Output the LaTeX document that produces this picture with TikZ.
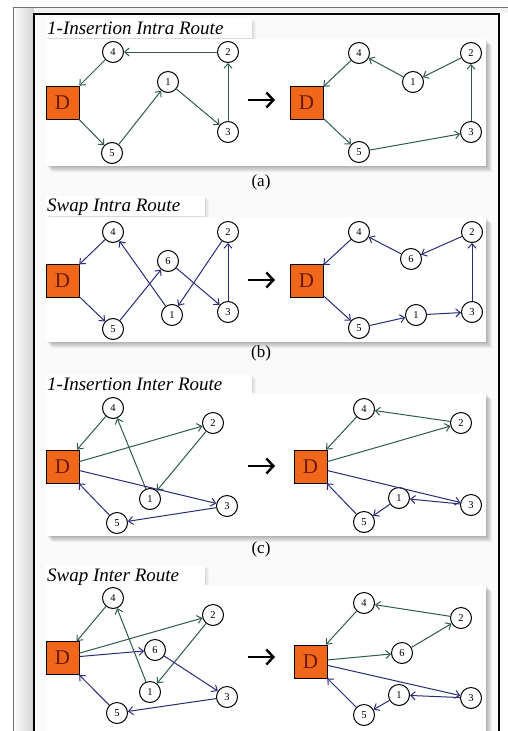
\documentclass[tikz,border=0pt]{standalone}
\usepackage{fontspec}
\setmainfont{Liberation Serif}
\usetikzlibrary{arrows.meta}
\definecolor{rgreen}{HTML}{2F5A4C}
\definecolor{rnavy}{HTML}{2A2C78}
\definecolor{dorange}{HTML}{F0661A}
\definecolor{dtext}{HTML}{6A1A05}
\newcommand\pnlbox[4]{%
  \foreach \k in {1,...,6}{\fill[black,opacity=0.05] (#1+\k,#2+\k) rectangle (#3+\k,#4+\k);}
  \fill[white] (#1,#2) rectangle (#3,#4);}
\newcommand\ttlshade[4]{%
  \foreach \k in {1,...,4}{\fill[black,opacity=0.03] (#1+\k,#2+\k) rectangle (#3+\k,#4+\k);}
  \fill[white] (#1,#2) rectangle (#3,#4);}
\begin{document}
\begin{tikzpicture}[x=1pt,y=-1pt,
  cust/.style={circle,draw=black,line width=1pt,fill=white,minimum size=21pt,inner sep=0pt,font=\fontsize{10.5}{10.5}\selectfont},
  depot/.style={draw=black,line width=0.7pt,fill=dorange,minimum size=33pt,inner sep=0pt,text=dtext,font=\fontsize{21}{21}\selectfont},
  ge/.style={rgreen,line width=1pt,-{Straight Barb[length=4.5pt,width=8pt]}},
  ne/.style={rnavy,line width=1pt,-{Straight Barb[length=4.5pt,width=8pt]}},
  ttl/.style={anchor=base west,font=\fontsize{19}{19}\selectfont\itshape,inner sep=0pt},
  sublbl/.style={font=\fontsize{17}{17}\selectfont,inner sep=0pt},
  bigarrow/.style={black,line width=2.4pt,-{Straight Barb[length=7pt,width=15pt,line width=2.4pt]}}
]
\useasboundingbox (0,0) rectangle (508,731);
\fill[white] (0,0) rectangle (508,731);
% outer frame
\shade[left color=white,right color=black!18] (13,7) rectangle (34,731);
\fill[black!5] (34,7) rectangle (508,13);
\draw[black!55,line width=0.8pt] (13,731) -- (13,7) -- (508,7);
\fill[black!2] (36,15) rectangle (497,731);
\draw[black,line width=2pt] (34,731) -- (34,13.5) -- (499,13.5) -- (499,731);

% panels
\ttlshade{46}{18}{252}{38}
\pnlbox{46}{39}{486}{166}
\ttlshade{46}{196}{205}{216}
\pnlbox{46}{217}{486}{342}
\ttlshade{46}{375}{252}{393}
\pnlbox{46}{393}{486}{536}
\ttlshade{46}{565}{205}{585}
\pnlbox{46}{585}{486}{735}

% titles
\node[ttl] (ta) at (47,34) {1-Insertion Intra Route};
\node[ttl] (tb) at (47,211) {Swap Intra Route};
\node[ttl] (tc) at (47,390) {1-Insertion Inter Route};
\node[ttl] (td) at (47,581) {Swap Inter Route};

% sub labels
\node[sublbl] (la) at (261,182) {(a)};
\node[sublbl] (lb) at (261,353) {(b)};
\node[sublbl] (lc) at (261,549) {(c)};

% big arrows
\coordinate (xa0) at (248,100); \coordinate (xa1) at (275,100);
\coordinate (xb0) at (248,280); \coordinate (xb1) at (275,280);
\coordinate (xc0) at (248,466); \coordinate (xc1) at (275,466);
\coordinate (xd0) at (248,657); \coordinate (xd1) at (275,657);
\draw[bigarrow] (xa0) -- (xa1);
\draw[bigarrow] (xb0) -- (xb1);
\draw[bigarrow] (xc0) -- (xc1);
\draw[bigarrow] (xd0) -- (xd1);

% ---------- (a) ----------
\node[depot] (aLD) at (62.5,102.5) {D};
\node[cust] (aL4) at (113,52) {4};
\node[cust] (aL2) at (228,52) {2};
\node[cust] (aL1) at (168,82) {1};
\node[cust] (aL5) at (112,153) {5};
\node[cust] (aL3) at (228,132) {3};
\draw[ge] (aL2) -- (aL4);
\draw[ge] (aL4) -- (aLD);
\draw[ge] (aLD) -- (aL5);
\draw[ge] (aL5) -- (aL1);
\draw[ge] (aL1) -- (aL3);
\draw[ge] (aL3) -- (aL2);

\node[depot] (aRD) at (306.5,102.5) {D};
\node[cust] (aR4) at (359,53) {4};
\node[cust] (aR1) at (413,82) {1};
\node[cust] (aR2) at (471,53) {2};
\node[cust] (aR3) at (471,132) {3};
\node[cust] (aR5) at (359,152) {5};
\draw[ge] (aR2) -- (aR1);
\draw[ge] (aR1) -- (aR4);
\draw[ge] (aR4) -- (aRD);
\draw[ge] (aRD) -- (aR5);
\draw[ge] (aR5) -- (aR3);
\draw[ge] (aR3) -- (aR2);

% ---------- (b) ----------
\node[depot] (bLD) at (62.5,280.5) {D};
\node[cust] (bL4) at (113,232) {4};
\node[cust] (bL2) at (228,232) {2};
\node[cust] (bL6) at (168,261) {6};
\node[cust] (bL1) at (172,315) {1};
\node[cust] (bL3) at (228,312) {3};
\node[cust] (bL5) at (113,329) {5};
\draw[ne] (bL4) -- (bLD);
\draw[ne] (bLD) -- (bL5);
\draw[ne] (bL5) -- (bL6);
\draw[ne] (bL6) -- (bL3);
\draw[ne] (bL3) -- (bL2);
\draw[ne] (bL2) -- (bL1);
\draw[ne] (bL1) -- (bL4);

\node[depot] (bRD) at (306.5,280.5) {D};
\node[cust] (bR4) at (359,232) {4};
\node[cust] (bR6) at (411,259) {6};
\node[cust] (bR2) at (472,232) {2};
\node[cust] (bR1) at (416,315) {1};
\node[cust] (bR3) at (472,312) {3};
\node[cust] (bR5) at (359,328) {5};
\draw[ne] (bR2) -- (bR6);
\draw[ne] (bR6) -- (bR4);
\draw[ne] (bR4) -- (bRD);
\draw[ne] (bRD) -- (bR5);
\draw[ne] (bR5) -- (bR1);
\draw[ne] (bR1) -- (bR3);
\draw[ne] (bR3) -- (bR2);

% ---------- (c) ----------
\node[depot] (cLD) at (62.5,466.5) {D};
\node[cust] (cL4) at (113,408) {4};
\node[cust] (cL2) at (213,423) {2};
\node[cust] (cL1) at (150,499) {1};
\node[cust] (cL3) at (227,506) {3};
\node[cust] (cL5) at (117,523) {5};
\draw[ge] (cL4) -- (cLD);
\draw[ge] (cLD) -- (cL2);
\draw[ge] (cL2) -- (cL1);
\draw[ge] (cL1) -- (cL4);
\draw[ne] (cLD) -- (cL3);
\draw[ne] (cL3) -- (cL5);
\draw[ne] (cL5) -- (cLD);

\node[depot] (cRD) at (310.5,466.5) {D};
\node[cust] (cR4) at (364,409) {4};
\node[cust] (cR2) at (461,423) {2};
\node[cust] (cR1) at (399,498) {1};
\node[cust] (cR3) at (471,505) {3};
\node[cust] (cR5) at (364,522) {5};
\draw[ge] (cR2) -- (cR4);
\draw[ge] (cR4) -- (cRD);
\draw[ge] (cRD) -- (cR2);
\draw[ne] (cRD) -- (cR3);
\draw[ne] (cR3) -- (cR1);
\draw[ne] (cR1) -- (cR5);
\draw[ne] (cR5) -- (cRD);

% ---------- (d) ----------
\node[depot] (dLD) at (62.5,658) {D};
\node[cust] (dL4) at (113,598) {4};
\node[cust] (dL2) at (213,615) {2};
\node[cust] (dL6) at (155,650) {6};
\node[cust] (dL1) at (150,692) {1};
\node[cust] (dL3) at (227,697) {3};
\node[cust] (dL5) at (117,713) {5};
\draw[ge] (dL4) -- (dLD);
\draw[ge] (dLD) -- (dL2);
\draw[ge] (dL2) -- (dL1);
\draw[ge] (dL1) -- (dL4);
\draw[ne] (dLD) -- (dL6);
\draw[ne] (dL6) -- (dL3);
\draw[ne] (dL3) -- (dL5);
\draw[ne] (dL5) -- (dLD);

\node[depot] (dRD) at (310.5,661.5) {D};
\node[cust] (dR4) at (364,603) {4};
\node[cust] (dR2) at (461,618) {2};
\node[cust] (dR6) at (402,653) {6};
\node[cust] (dR1) at (399,695) {1};
\node[cust] (dR3) at (471,698) {3};
\node[cust] (dR5) at (364,715) {5};
\draw[ge] (dR2) -- (dR4);
\draw[ge] (dR4) -- (dRD);
\draw[ge] (dRD) -- (dR6);
\draw[ge] (dR6) -- (dR2);
\draw[ne] (dRD) -- (dR3);
\draw[ne] (dR3) -- (dR1);
\draw[ne] (dR1) -- (dR5);
\draw[ne] (dR5) -- (dRD);
\end{tikzpicture}
\end{document}
